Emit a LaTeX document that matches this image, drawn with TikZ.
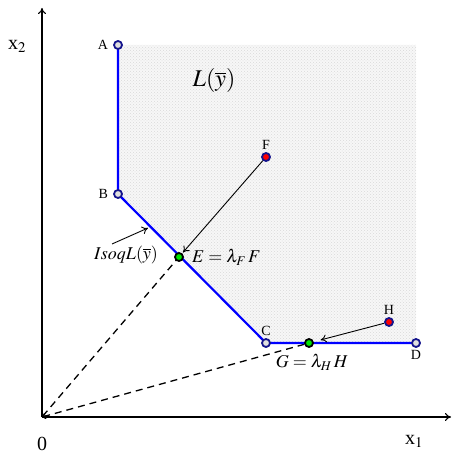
\documentclass[tikz,border=0pt]{standalone}
\usepackage{mathptmx}
\usepackage{fontspec}
\setmainfont{Liberation Serif}
\usepackage{tikz}
\usetikzlibrary{arrows.meta}
\usetikzlibrary{calc}
\usetikzlibrary{patterns}
\usetikzlibrary{positioning}
\usepackage{xcolor}
\definecolor{ptnavy}{RGB}{20,20,140}
\definecolor{ptgreen}{RGB}{0,230,0}

\begin{document}
\begin{tikzpicture}[x=1pt, y=-1pt, >={To[length=6pt,width=8pt]},
      axis/.style={->, line width=1.1pt},
      ray/.style={line width=1.3pt, dash pattern=on 7pt off 5pt, <-, >={To[length=4pt,width=6pt]}},
      isoq/.style={blue, line width=2.2pt},
      pt/.style={circle, draw=ptnavy, line width=1.8pt, inner sep=0pt, minimum size=8pt, fill=#1},
      lbl/.style={font=\fontsize{14}{16}\selectfont, inner sep=1pt},
      mlbl/.style={font=\fontsize{18}{20}\selectfont, inner sep=1pt}]
      \useasboundingbox (0,0) rectangle (452,454);
      % Input set L(y)
      \fill[gray!6] (118,45) -- (416,45) -- (416,343) -- (266,343) -- (118,194) -- cycle;
      \fill[pattern=crosshatch dots, pattern color=gray!30]
      (118,45) -- (416,45) -- (416,343) -- (266,343) -- (118,194) -- cycle;
      % Axes
      \coordinate (O) at (42,417);
      \draw[axis] (O) -- (451,417);
      \draw[axis] (O) -- (42,8);
      \node[font=\fontsize{20}{22}\selectfont] (xone) at (414,441) {x$_1$};
      \node[font=\fontsize{20}{22}\selectfont] (xtwo) at (17,46) {x$_2$};
      \node[font=\fontsize{20}{22}\selectfont] (zero) at (42,444) {0};
      % Dashed rays
      \draw[ray] (O) -- (179,257);
      \draw[ray] (O) -- (309,343);
      % Isoquant
      \draw[isoq] (118,45) -- (118,194) -- (266,343) -- (416,343);
      % Points
      \node[pt=gray!25] (A) at (118,45) {};
      \node[pt=gray!25] (B) at (118,194) {};
      \node[pt=gray!25] (C) at (266,343) {};
      \node[pt=gray!25] (D) at (416,343) {};
      \node[pt=red] (F) at (266,157) {};
      \node[pt=red] (H) at (389,322) {};
      \node[pt=ptgreen, draw=black] (E) at (179,257) {};
      \node[pt=ptgreen, draw=black] (G) at (309,343) {};
      % Point labels
      \node[lbl, left=4pt of A] {A};
      \node[lbl, left=4pt of B] {B};
      \node[lbl, above=1pt of C] {C};
      \node[lbl, below=1pt of D] {D};
      \node[lbl, above=1pt of F] {F};
      \node[lbl, above=1pt of H] {H};
      \node[mlbl, right=7pt of E] (Elbl) {$E=\lambda_{F}\,F$};
      \node[mlbl] (Glbl) at (312,362) {$G=\lambda_{H}\,H$};
      \node[font=\fontsize{24}{26}\selectfont] (Lset) at (214,81) {$L(\overline{y})$};
      \node[mlbl] (isolbl) at (126,255) {$IsoqL(\overline{y})$};
      \coordinate (isotip) at (148,228);
      % Arrows
      \draw[->, line width=0.9pt] (F) -- ($(E)!6pt!(F)$);
      \draw[->, line width=0.9pt] (H) -- ($(G)!12pt!(H)$);
      \draw[->, line width=0.9pt] (112,244) -- (isotip);
\end{tikzpicture}
\end{document}
